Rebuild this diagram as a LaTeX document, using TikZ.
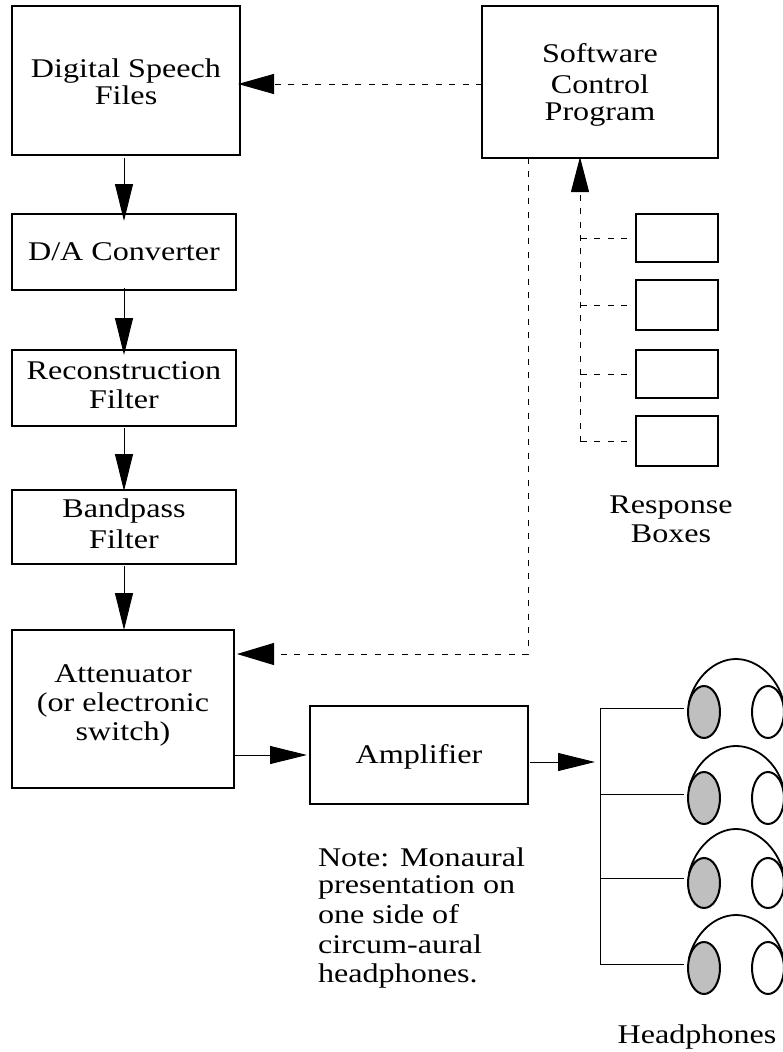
\documentclass[tikz,border=0pt]{standalone}
\usepackage{fontspec}
\setmainfont[FakeStretch=1.19]{Liberation Serif}
\usetikzlibrary{arrows.meta,shapes.geometric}
\definecolor{eargray}{gray}{0.75}
\newcommand\boxtext[2]{\raisebox{#1}[0pt][0pt]{\begin{tabular}[t]{@{}c@{}}#2\end{tabular}}}
\tikzset{
  boxnode/.style={draw=black,line width=2pt,rectangle,inner sep=0pt,outer sep=0pt,fill=white,
    font=\fontsize{27}{28}\selectfont},
  lbl/.style={inner sep=0pt,outer sep=0pt,font=\fontsize{27}{28}\selectfont},
  ear/.style={draw=black,ellipse,line width=2pt,inner sep=0pt,outer sep=0pt,minimum width=32pt},
  flow/.style={line width=1pt,-{Triangle[length=37pt,width=18pt]}},
  flowdash/.style={line width=1pt,dash pattern=on 6pt off 7.4pt,-{Triangle[length=36pt,width=20pt]}},
  wire/.style={line width=1pt},
  wiredash/.style={line width=1pt,dash pattern=on 6pt off 7.4pt},
}
\begin{document}
\begin{tikzpicture}[x=1pt,y=-1pt]
\useasboundingbox (0,0) rectangle (783,1052);
\clip (0,0) rectangle (783,1052);
% boxes
\node[boxnode,minimum width=228pt,minimum height=149pt] (dig) at (126,80.5) {\boxtext{3.5pt}{Digital Speech\\[-1pt]Files}};
\node[boxnode,minimum width=236pt,minimum height=152pt] (soft) at (600,82) {\boxtext{20pt}{Software\\[3pt]Control\\[-1pt]Program}};
\node[boxnode,minimum width=224pt,minimum height=76pt] (dac) at (124,252) {\boxtext{-8pt}{D/A Converter}};
\node[boxnode,minimum width=224pt,minimum height=76pt] (rec) at (124,388) {\boxtext{9pt}{Reconstruction\\[1pt]Filter}};
\node[boxnode,minimum width=224pt,minimum height=74pt] (band) at (124,527) {\boxtext{10pt}{Bandpass\\[3pt]Filter}};
\node[boxnode,minimum width=222pt,minimum height=158pt] (att) at (123,709) {\boxtext{27pt}{Attenuator\\[1pt](or electronic\\[1pt]switch)}};
\node[boxnode,minimum width=218pt,minimum height=98pt] (amp) at (419,755) {\boxtext{-8.5pt}{Amplifier}};
\node[boxnode,minimum width=82pt,minimum height=48pt] (r1) at (677,238) {};
\node[boxnode,minimum width=82pt,minimum height=50pt] (r2) at (677,305) {};
\node[boxnode,minimum width=82pt,minimum height=48pt] (r3) at (677,374) {};
\node[boxnode,minimum width=82pt,minimum height=50pt] (r4) at (677,441) {};
% free labels
\node[lbl,anchor=base] (resp) at (671,513) {\begin{tabular}[t]{@{}c@{}}Response\\[1pt]Boxes\end{tabular}};
\node[lbl,anchor=base west] (note) at (318,866) {\begin{tabular}[t]{@{}l@{}}Note: Monaural\\[-1pt]presentation on\\[2pt]one side of\\[2pt]circum-aural\\[1pt]headphones.\end{tabular}};
\node[lbl,anchor=base] (hplabel) at (697,1043) {Headphones};
% main flow
\draw[flow,shorten <=3pt,shorten >=-7pt] (dig.south -| dac.north) -- (dac.north);
\draw[flow,shorten <=-2pt,shorten >=-5pt] (dac.south) -- (rec.north);
\draw[flow,shorten <=2pt,shorten >=-1pt] (rec.south) -- (band.north);
\draw[flow,shorten <=2pt] (band.south) -- (att.north -| band.south);
\draw[flow,shorten >=3pt,line width=1pt] (att.east |- amp.west) -- (amp.west);
% control
\draw[flowdash,shorten >=-2pt] ([yshift=-2pt]soft.west) -- ([yshift=-3.5pt]dig.east);
\draw[flowdash,shorten >=3pt,-{Triangle[length=37pt,width=22pt]}] ([xshift=-72pt]soft.south) |- ([yshift=55pt]att.east);
% response bus
\coordinate (rbus) at (580,442);
\draw[flowdash,shorten >=-1pt,-{Triangle[length=35pt,width=18pt]}] (rbus) -- (soft.south -| rbus);
\foreach \b in {r1,r2,r3,r4}
  \draw[wiredash,shorten <=9pt] (\b.west) -- (\b.west -| rbus);
% headphones
\foreach \n/\y/\ry/\t in {1/712/52/53,2/798/52/52,3/883/50/54,4/968/52/53}{
  \draw[line width=1.8pt] (689,\y-10) .. controls (695,\y-35) and (715,\y-\t) .. (736,\y-\t)
     .. controls (757,\y-\t) and (777,\y-35) .. (783,\y-12);
  \node[ear,fill=eargray,minimum height=\ry pt] (hl\n) at (704,\y) {};
  \node[ear,fill=white,minimum height=\ry pt] (hr\n) at (768,\y) {};
}
\coordinate (bustop) at (600,708);
\coordinate (busbot) at (600,964);
\coordinate (ampjoin) at (600,762);
\draw[wire,shorten >=4pt] (bustop) -- ([yshift=4pt]hl1.west);
\draw[wire,shorten >=4pt] (bustop |- hl2.west) ++(0,-4) -- ([yshift=4pt]hl2.west);
\draw[wire,shorten >=4pt] (bustop |- hl3.west) ++(0,-5) -- ([yshift=5pt]hl3.west);
\draw[wire,shorten >=4pt] (busbot) -- ([yshift=4pt]hl4.west);
\draw[wire] (bustop) -- (busbot);
\draw[flow,shorten <=2pt,shorten >=5pt] ([yshift=-7pt]amp.east) -- (ampjoin);
\end{tikzpicture}
\end{document}
